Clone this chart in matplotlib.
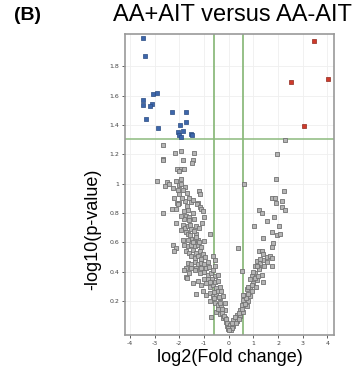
import matplotlib
matplotlib.use("Agg")
import matplotlib.pyplot as plt

# значимые точки (синие - вниз, красные - вверх)
blue_x = [-3.46, -3.39, -3.47, -3.47, -3.08, -2.91, -3.12, -3.18, -3.36, -2.85,
          -2.30, -1.71, -1.96, -1.71, -1.86, -2.06, -2.02, -1.92, -1.54, -1.50]
blue_y = [1.99, 1.87, 1.57, 1.535, 1.61, 1.62, 1.545, 1.53, 1.44, 1.38,
          1.49, 1.49, 1.40, 1.42, 1.36, 1.35, 1.33, 1.32, 1.335, 1.33]

red_x = [3.46, 2.51, 4.01, 3.04]
red_y = [1.97, 1.69, 1.71, 1.39]

# незначимые точки (серые)
gray_x = [
    -2.64, 2.29, -2.17, -1.94, -1.41, -2.67, -2.66, -1.86, -1.44, -1.50,
    -2.09, -1.95, -1.79, -2.02, -2.91, -2.49, -2.14, -1.94,
    -2.57, -2.40, -2.24, -2.03, -1.92, -1.76, -2.06, -2.00, -1.86, -1.22, -1.17,
    -1.60, -1.76, -2.10, -2.00, -1.54, -1.45, -1.25,
    -2.04, -1.70, -1.27, -1.18,
    -2.67, -2.13, -1.82, -1.65, -1.14, -1.04,
    -1.72, -1.59, -1.41, -1.00, -1.09,
    -2.13, -1.86, -1.76, -1.65, -1.52, -1.31,
    -1.92, -1.72, -1.65, -1.31, -0.77,
    -1.65, -1.49, -1.38, -1.25, -1.00,
    -2.26, -2.13, -2.20,
    -1.79, -1.65, -1.52, -1.38, -1.25,
    -1.72, -1.59, -1.45, -1.31, -1.18,
    -1.52, -1.38, -1.25, -1.11, -0.64, -0.57,
    -1.65, -1.52, -1.38, -1.25, -1.11, -0.98,
    -1.72, -1.52, -1.31, -1.11, -0.91, -0.57,
    -1.72, -1.68,
    -1.79, -1.59, -1.38, -1.18, -0.98, -0.84, -0.70, -0.57, -0.43,
    -1.45, -1.25, -1.11, -0.91, -0.77, -0.64, -0.50, -0.37,
    -1.31,
    -1.04, -0.91, -0.77, -0.64, -0.50, -0.37, -0.23,
    -0.77, -0.57, -0.43, -0.30, -0.16,
    -0.70, -0.50, -0.37, -0.23, -0.16,
    -0.12, -0.05, -0.03, -0.08, -0.15,
    -1.45, -1.32, -1.55, -1.85, -1.10, -1.20, -1.05, -0.95, -0.85, -1.00,
    -0.80, -0.62, -0.68, -0.55, -0.45, -0.42, -0.30, -0.58, -0.35, -0.25,
    -0.45, -0.28, -0.18, -0.10, -0.40, -0.60, -0.85, -1.00, -0.75, -1.62,
    -1.45, -1.55, -1.80, -1.95, -1.40, -1.20, -2.30, -1.90, -1.70, -2.20,
    1.96, 0.62, 1.92, 2.25, 1.75, 1.86, 2.18, 1.91, 2.15, 2.29,
    1.21, 1.37, 1.54, 1.82, 1.03, 2.06,
    1.75, 1.95, 2.09, 1.39, 1.78, 1.75, 0.39,
    1.21, 1.34, 1.41, 1.54, 1.68, 1.75,
    1.14, 1.27, 1.41, 1.54, 1.07, 1.21, 1.75,
    0.56, 1.21, 1.07, 0.93, 1.34, 1.14, 1.00, 1.41,
    0.87, 0.73, 0.93, 0.66, 0.87, 0.60, 0.80, 0.53, 0.73,
    0.46, 0.60, 0.33, 0.46, 0.19, 0.33, 0.05, 0.19, -0.01, 0.09,
    1.05, 1.20, 0.95, 1.10, 0.78, 0.70, 0.65, 0.55, 0.40, 0.25,
    0.12, 0.40, 0.28, 0.15, 0.02, 1.28, 1.15, 1.45, 0.98, 0.85, 0.78, 0.57,
]
gray_y = [
    1.26, 1.30, 1.21, 1.22, 1.21, 1.17, 1.16, 1.16, 1.16, 1.14,
    1.10, 1.10, 1.10, 1.085, 1.02, 1.01, 1.02, 1.03,
    0.985, 0.996, 0.97, 0.99, 0.996, 0.98, 0.96, 0.93, 0.96, 0.95, 0.93,
    0.905, 0.88, 0.87, 0.87, 0.876, 0.89, 0.87,
    0.864, 0.85, 0.864, 0.84,
    0.80, 0.83, 0.815, 0.82, 0.83, 0.815,
    0.78, 0.77, 0.76, 0.77, 0.73,
    0.73, 0.72, 0.70, 0.71, 0.69, 0.71,
    0.685, 0.67, 0.655, 0.66, 0.655,
    0.616, 0.625, 0.616, 0.62, 0.61,
    0.586, 0.564, 0.54,
    0.586, 0.575, 0.586, 0.575, 0.586,
    0.54, 0.53, 0.55, 0.53, 0.54,
    0.507, 0.495, 0.507, 0.489, 0.507, 0.484,
    0.46, 0.45, 0.466, 0.45, 0.46, 0.45,
    0.427, 0.427, 0.427, 0.427, 0.427, 0.44,
    0.364, 0.357,
    0.41, 0.39, 0.41, 0.39, 0.40, 0.38, 0.39, 0.37, 0.38,
    0.325, 0.336, 0.313, 0.325, 0.30, 0.313, 0.29, 0.30,
    0.25,
    0.27, 0.245, 0.257, 0.234, 0.245, 0.22, 0.234,
    0.20, 0.188, 0.177, 0.166, 0.188,
    0.09, 0.13, 0.11, 0.086, 0.143,
    0.06, 0.03, 0.012, 0.05, 0.086,
    0.60, 0.64, 0.65, 0.62, 0.57, 0.60, 0.52, 0.50, 0.47, 0.40,
    0.43, 0.41, 0.35, 0.33, 0.34, 0.27, 0.27, 0.26, 0.19, 0.15,
    0.15, 0.12, 0.10, 0.08, 0.23, 0.22, 0.35, 0.35, 0.33, 0.75,
    0.80, 0.72, 0.76, 0.78, 0.68, 0.70, 0.83, 0.90, 0.94, 0.90,
    1.20, 1.00, 1.03, 0.95, 0.90, 0.905, 0.88, 0.866, 0.84, 0.82,
    0.82, 0.80, 0.746, 0.77, 0.71, 0.71,
    0.67, 0.648, 0.66, 0.63, 0.593, 0.57, 0.56,
    0.545, 0.54, 0.52, 0.50, 0.51, 0.495,
    0.473, 0.46, 0.484, 0.466, 0.44, 0.427, 0.44,
    0.405, 0.416, 0.393, 0.37, 0.38, 0.347, 0.325, 0.33,
    0.30, 0.28, 0.27, 0.245, 0.234, 0.21, 0.20, 0.177, 0.166,
    0.143, 0.13, 0.109, 0.098, 0.074, 0.064, 0.04, 0.03, 0.018, 0.006,
    0.36, 0.37, 0.31, 0.30, 0.25, 0.22, 0.18, 0.15, 0.12, 0.09,
    0.05, 0.08, 0.05, 0.02, 0.005, 0.49, 0.44, 0.44, 0.40, 0.35, 0.30, 0.24,
]

x_ticks = [-4, -3, -2, -1, 0, 1, 2, 3, 4]
y_ticks = [0.2, 0.4, 0.6, 0.8, 1.0, 1.2, 1.4, 1.6, 1.8]
y_tick_labels = ["0.2", "0.4", "0.6", "0.8", "1", "1.2", "1.4", "1.6", "1.8"]
p_cut = 1.301
fc_cut = 0.585

fig = plt.figure(figsize=(3.55, 3.76), dpi=100)
ax = fig.add_axes([0.352, 0.109, 0.589, 0.801])

ax.grid(True, color="#efefef", linewidth=0.6)
ax.set_axisbelow(True)

ax.axhline(p_cut, color="#8dbb7e", linewidth=1.1, zorder=1)
ax.axvline(-fc_cut, color="#8dbb7e", linewidth=1.3, zorder=1)
ax.axvline(fc_cut, color="#8dbb7e", linewidth=1.3, zorder=1)

ax.scatter(gray_x, gray_y, marker="s", s=11, facecolor="#b5b5b5",
           edgecolor="#737373", linewidth=0.6, zorder=3)
ax.scatter(blue_x, blue_y, marker="s", s=11, facecolor="#3d66ab",
           edgecolor="#2a4b82", linewidth=0.5, zorder=4)
ax.scatter(red_x, red_y, marker="s", s=11, facecolor="#cf3a2b",
           edgecolor="#8f2a1f", linewidth=0.5, zorder=4)

ax.set_xlim(-4.2, 4.27)
ax.set_ylim(-0.03, 2.02)
ax.set_xticks(x_ticks)
ax.set_xticklabels([str(v) for v in x_ticks])
ax.set_yticks(y_ticks)
ax.set_yticklabels(y_tick_labels)
ax.tick_params(labelsize=4.5, length=2.5, width=0.6, pad=1.5,
               colors="#444444")

for s in ax.spines.values():
    s.set_color("#999999")
    s.set_linewidth(1.2)

fig.text(0.078, 0.96, "(B)", fontsize=14, fontweight="bold",
         family="Liberation Sans", ha="center", va="center")
fig.text(0.655, 0.96, "AA+AIT versus AA-AIT", fontsize=17,
         family="Liberation Sans", ha="center", va="center")
fig.text(0.26, 0.39, "-log10(p-value)", fontsize=13, rotation=90,
         family="Liberation Sans", ha="center", va="center")
fig.text(0.648, 0.048, "log2(Fold change)", fontsize=13,
         family="Liberation Sans", ha="center", va="center")

fig.savefig("out.png", dpi=100)
